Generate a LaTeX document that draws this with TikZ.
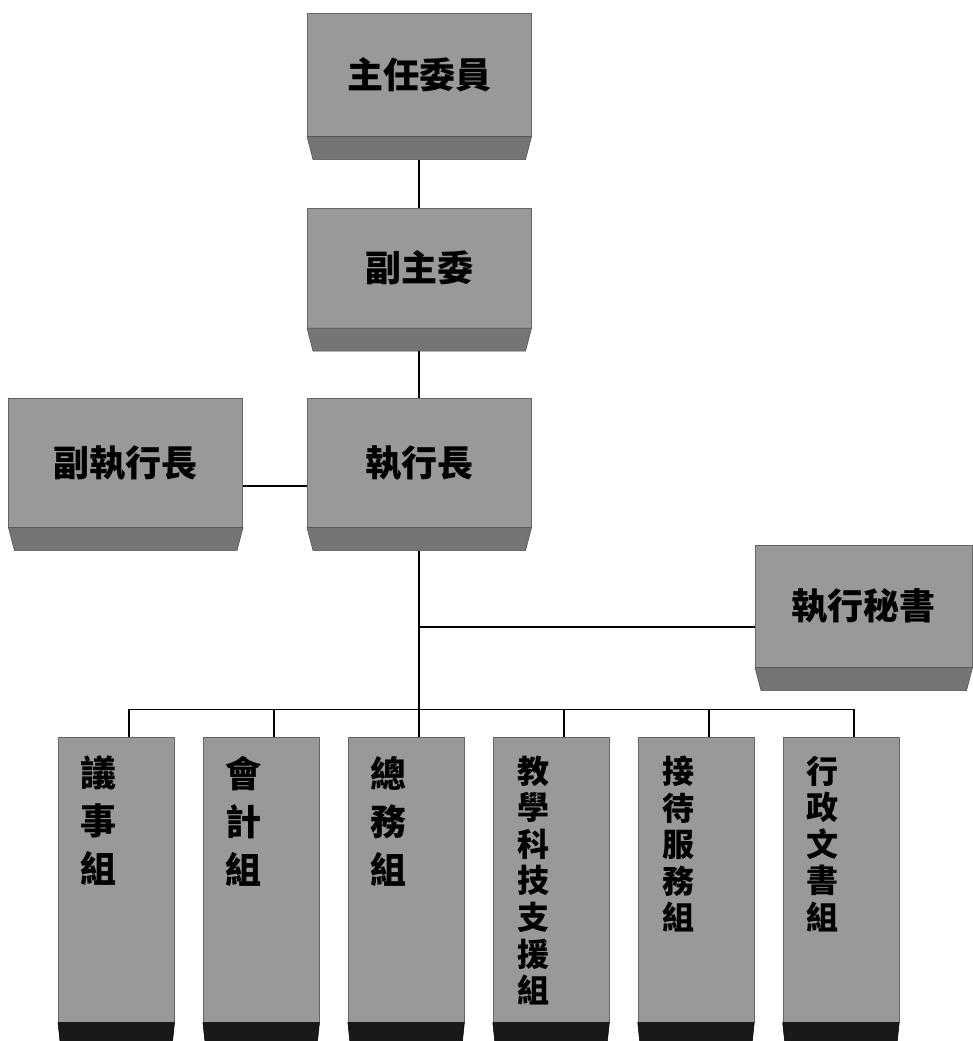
\documentclass[tikz,border=0pt]{standalone}
\usepackage{fontspec}
\newfontfamily\cjk{Noto Sans CJK TC}
\usepackage{tikz}
\usetikzlibrary{positioning,calc}
\definecolor{facegray}{gray}{0.60}
\definecolor{bevelgray}{gray}{0.46}
\definecolor{footgray}{gray}{0.10}
\newcommand{\colbox}[3]{\parbox[c][213.75pt][t]{87pt}{\vspace*{14pt}\hspace*{12pt}\parbox[t]{36pt}{\centering\fontsize{#1}{#2}\selectfont #3}}}

\begin{document}
\begin{tikzpicture}[x=0.75pt,y=-0.75pt,line width=1.3pt,
  face/.style={fill=facegray,draw=black!60,line width=0.4pt,inner sep=0pt,
    font=\cjk\bfseries\fontsize{27pt}{32pt}\selectfont},
  topbox/.style={face,minimum width=168pt},
  grpbox/.style={face,minimum width=87pt,minimum height=213.75pt},
  bevel/.style={fill=bevelgray,draw=black!70,line width=0.4pt},
  foot/.style={fill=footgray,draw=black,line width=0.4pt}]
\useasboundingbox (0,0) rectangle (972,1041);
\node[topbox,minimum height=92.25pt,anchor=north west] (c1) at (307,13) {主任委員};
\node[topbox,minimum height=90pt,below=53.25pt of c1] (c2) {副主委};
\node[topbox,minimum height=96.75pt,below=52.5pt of c2] (c3) {執行長};
\node[face,minimum width=175.5pt,minimum height=96.75pt,left=48pt of c3] (d1) {副執行長};
\node[face,minimum width=162.75pt,minimum height=91.5pt,anchor=north west] (s1) at (755,545) {執行秘書};
\node[grpbox,anchor=north west] (g1) at (58,737) {\colbox{27pt}{36pt}{議\\事\\組}};
\node[grpbox,right=21.3pt of g1] (g2) {\colbox{27pt}{36pt}{會\\計\\組}};
\node[grpbox,right=21.3pt of g2] (g3) {\colbox{27pt}{36pt}{總\\務\\組}};
\node[grpbox,right=21.3pt of g3] (g4) {\colbox{24pt}{27.4pt}{教\\學\\科\\技\\支\\援\\組}};
\node[grpbox,right=21.3pt of g4] (g5) {\colbox{24pt}{27.4pt}{接\\待\\服\\務\\組}};
\node[grpbox,right=21.3pt of g5] (g6) {\colbox{24pt}{27.4pt}{行\\政\\文\\書\\組}};
\foreach \n in {c1,c2,c3,d1,s1}{
  \draw[bevel] (\n.south west) -- (\n.south east) -- ([xshift=-4.5pt,yshift=-17.25pt]\n.south east)
    -- ([xshift=4.5pt,yshift=-17.25pt]\n.south west) -- cycle;
  \coordinate (\n-b) at ([yshift=-17.25pt]\n.south);
}
\foreach \g in {g1,g2,g3,g4,g5,g6}
  \draw[foot] (\g.south west) -- (\g.south east) -- ([xshift=-1.5pt,yshift=-14.25pt]\g.south east)
    -- ([xshift=1.5pt,yshift=-14.25pt]\g.south west) -- cycle;
\coordinate (bus) at ($(c3-b)+(0,159)$);
\coordinate (sl) at ([yshift=-15.75pt]s1.west);
\draw (c1-b) -- (c2.north);
\draw (c2-b) -- (c3.north);
\draw ([yshift=-17.6pt]d1.east) -- ([yshift=-17.6pt]c3.west);
\draw (c3-b) -- (bus);
\draw (c3-b |- sl) -- (sl);
\draw ([xshift=9.75pt]g1.north) |- (bus) -| ([xshift=9.75pt]g6.north);
\foreach \g in {g2,g3,g4,g5}
  \draw ([xshift=9.75pt]\g.north) -- ([xshift=9.75pt]\g.north |- bus);
\end{tikzpicture}
\end{document}
